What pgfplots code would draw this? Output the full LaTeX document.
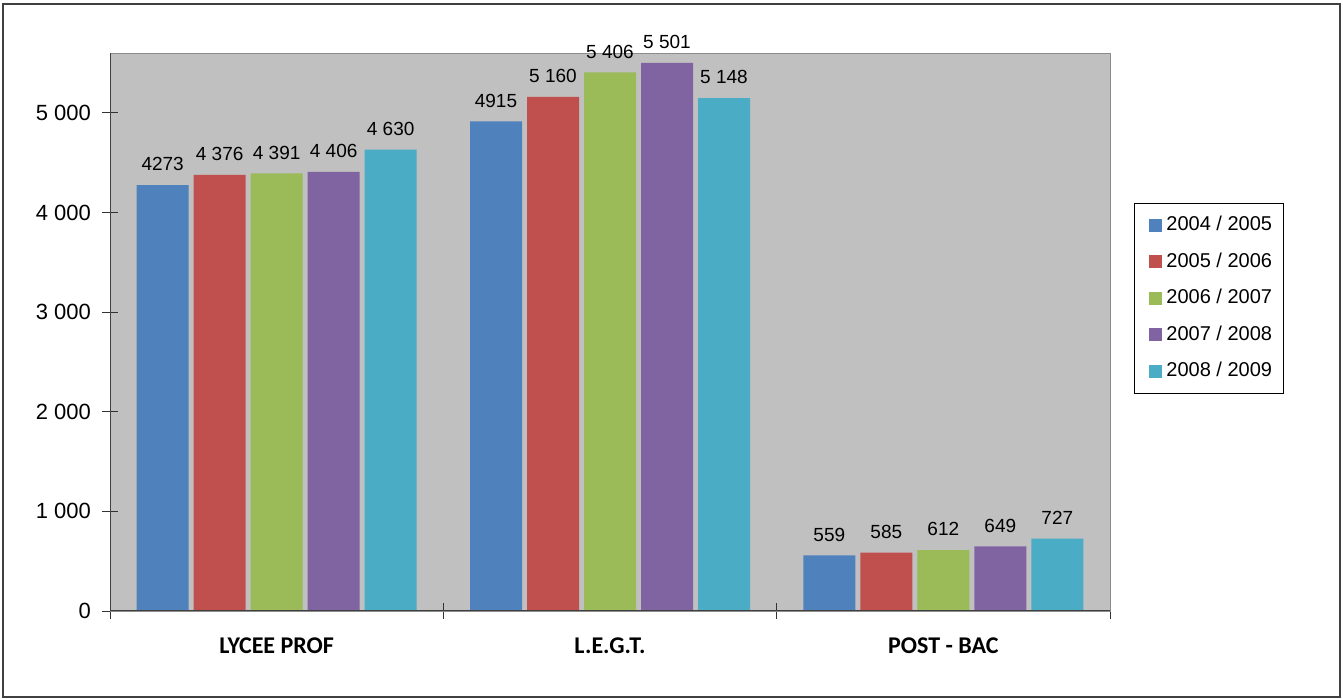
\documentclass[border=0pt]{standalone}
\usepackage{pgfplots}
\pgfplotsset{compat=1.18}
\usepackage{fontspec}
\setmainfont{Liberation Sans}
\newfontfamily\calibri{Carlito}
\definecolor{c1}{HTML}{4F81BD}
\definecolor{c2}{HTML}{C0504D}
\definecolor{c3}{HTML}{9BBB59}
\definecolor{c4}{HTML}{8064A2}
\definecolor{c5}{HTML}{4BACC6}
\definecolor{bg}{HTML}{C0C0C0}
\begin{document}
\begin{tikzpicture}
\path[use as bounding box] (0,0) rectangle (671.5pt,349.5pt);
\draw[line width=0.8pt, black!75] (1.5pt,1pt) rectangle (670pt,347.5pt);
\begin{axis}[
  at={(55pt,44pt)}, anchor=south west,
  scale only axis, width=500pt, height=279pt,
  xmin=-0.5, xmax=2.5, ymin=0, ymax=5600,
  ybar=2.5pt, bar width=26pt,
  axis background/.style={fill=bg},
  axis line style={draw=gray!90},
  xtick={-0.5,0.5,1.5,2.5},
  x tick label as interval,
  xticklabels={LYCEE PROF, L.E.G.T., POST - BAC},
  xticklabel style={font=\calibri\bfseries\fontsize{12}{14}\selectfont, yshift=-6pt},
  ytick={0,1000,2000,3000,4000,5000},
  yticklabels={0,1 000,2 000,3 000,4 000,5 000},
  yticklabel style={font=\fontsize{11}{13}\selectfont, xshift=-2pt},
  tick style={draw=black!80, thin},
  major tick length=8pt, tick align=center,
  ytick pos=left, xtick pos=bottom,
  point meta=explicit symbolic,
  nodes near coords,
  every node near coord/.append style={font=\fontsize{9.5}{11}\selectfont, yshift=3.5pt, text=black},
  legend style={at={(1.024,0.731)}, anchor=north west, draw=black, fill=white,
    font=\fontsize{10}{12}\selectfont, inner xsep=3.5pt, inner ysep=4.5pt, row sep=5.5pt,
    cells={anchor=west}},
  legend image code/.code={\path (0pt,0pt); \fill[#1] (4pt,-3.25pt) rectangle (10.5pt,3.25pt);},
]
\addplot[fill=c1, draw=none] coordinates {(0,4273) [4273] (1,4915) [4915] (2,559) [559]};
\addplot[fill=c2, draw=none] coordinates {(0,4376) [4 376] (1,5160) [5 160] (2,585) [585]};
\addplot[fill=c3, draw=none] coordinates {(0,4391) [4 391] (1,5406) [5 406] (2,612) [612]};
\addplot[fill=c4, draw=none] coordinates {(0,4406) [4 406] (1,5501) [5 501] (2,649) [649]};
\addplot[fill=c5, draw=none] coordinates {(0,4630) [4 630] (1,5148) [5 148] (2,727) [727]};
\legend{2004 / 2005, 2005 / 2006, 2006 / 2007, 2007 / 2008, 2008 / 2009}
\draw[black!75, line width=0.8pt] (rel axis cs:0,0) -- (rel axis cs:0,1);
\draw[black!75, line width=0.8pt] (rel axis cs:0,0) -- (rel axis cs:1,0);
\end{axis}
\end{tikzpicture}
\end{document}
